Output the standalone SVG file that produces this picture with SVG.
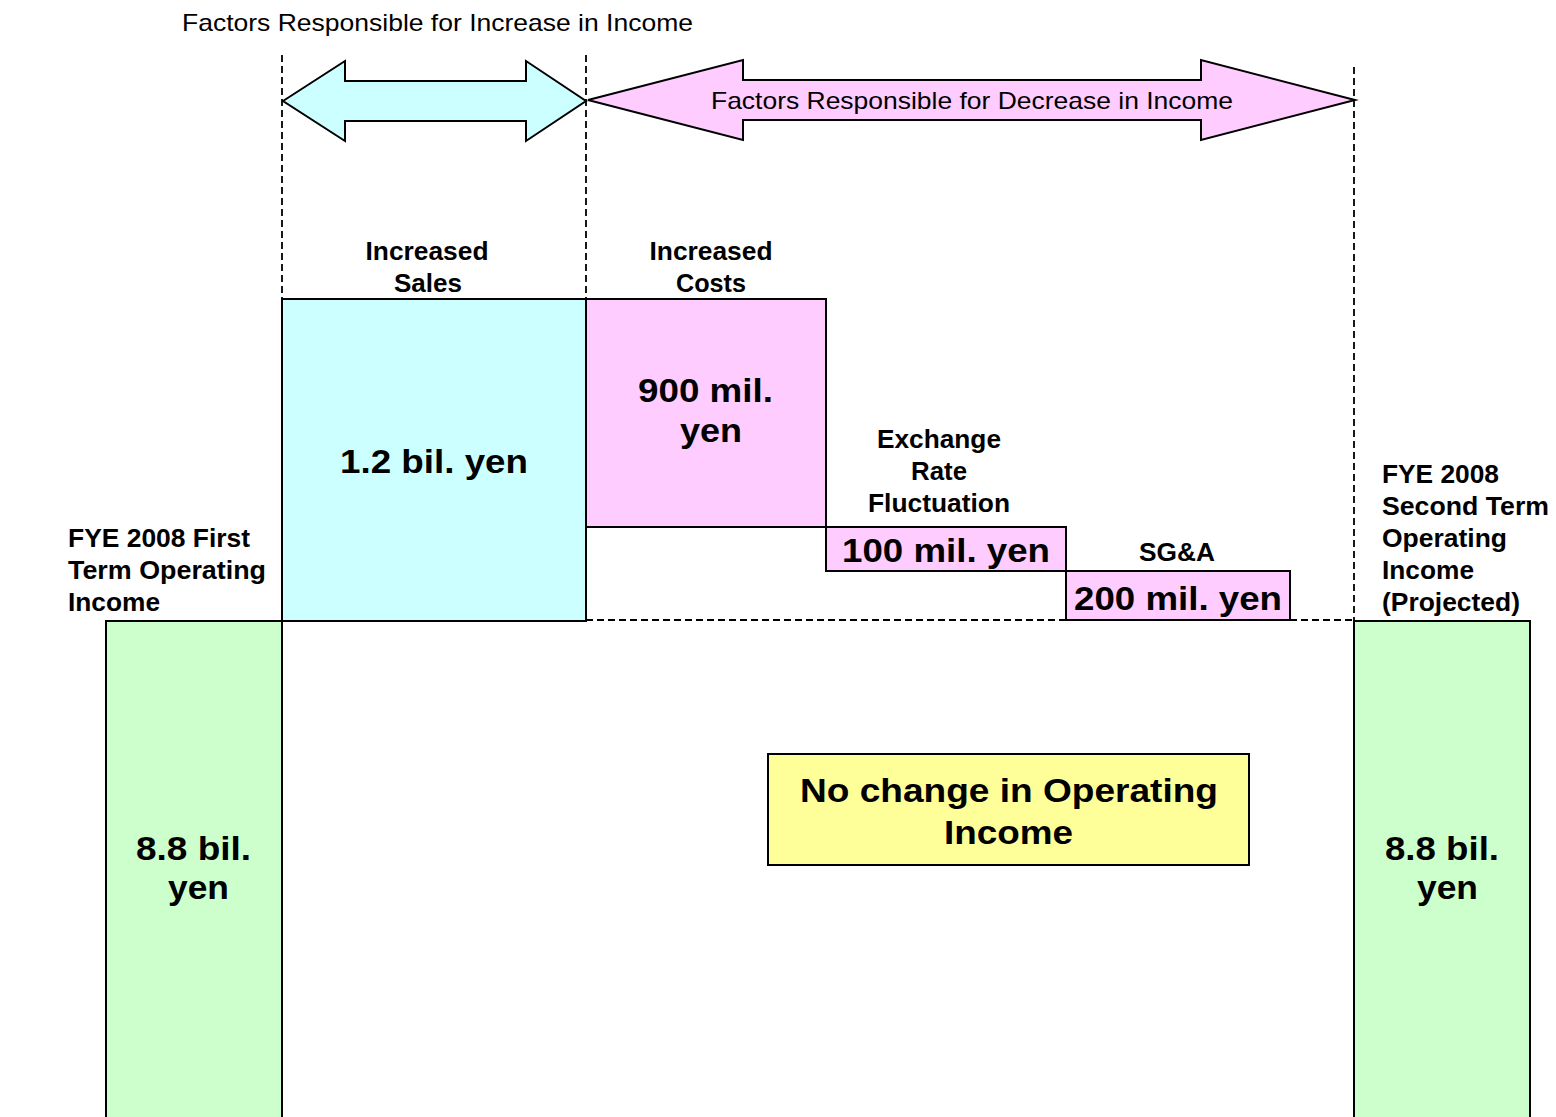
<svg xmlns="http://www.w3.org/2000/svg" width="1556" height="1117" viewBox="0 0 1556 1117">
<style>
  .box { stroke: #000; stroke-width: 2; }
  .cyan { fill: #CCFFFF; }
  .pink { fill: #FFCCFF; }
  .green { fill: #CCFFCC; }
  .yellow { fill: #FFFF99; }
  .dash { stroke: #000; stroke-width: 1.8; stroke-dasharray: 7 4; fill: none; }
  .reg { font-family: "Liberation Sans", Arial, sans-serif; font-size: 24px; fill: #000; }
  .lbl { font-family: "Liberation Sans", Arial, sans-serif; font-size: 25px; font-weight: bold; fill: #000; }
  .big { font-family: "Liberation Sans", Arial, sans-serif; font-size: 34px; font-weight: bold; fill: #000; }
  .mid { text-anchor: middle; }
</style>
<rect width="1556" height="1117" fill="#fff"/>

<g id="connectors">
  <line class="dash" x1="282" y1="55" x2="282" y2="299"/>
  <line class="dash" x1="586" y1="55" x2="586" y2="299"/>
  <line class="dash" x1="1354" y1="67" x2="1354" y2="621"/>
  <line class="dash" x1="586" y1="620" x2="1354" y2="620"/>
</g>

<g id="title-increase">
  <text class="reg" x="182" y="31" textLength="511" lengthAdjust="spacingAndGlyphs">Factors Responsible for Increase in Income</text>
</g>

<g id="arrow-increase">
  <polygon class="box cyan" points="283,101 345,61 345,81 526,81 526,61 586,101 526,141 526,121 345,121 345,141"/>
</g>

<g id="arrow-decrease">
  <polygon class="box pink" points="588,100 743,60 743,80 1201,80 1201,60 1355,100 1201,140 1201,120 743,120 743,140"/>
  <text class="reg mid" x="972" y="109" textLength="522" lengthAdjust="spacingAndGlyphs">Factors Responsible for Decrease in Income</text>
</g>

<g id="first-term">
  <rect class="box green" x="106" y="621" width="176" height="520"/>
  <text class="lbl" x="68" y="547" textLength="182" lengthAdjust="spacingAndGlyphs">FYE 2008 First</text>
  <text class="lbl" x="68" y="579" textLength="198" lengthAdjust="spacingAndGlyphs">Term Operating</text>
  <text class="lbl" x="68" y="611" textLength="92" lengthAdjust="spacingAndGlyphs">Income</text>
  <text class="big mid" x="193.5" y="860" textLength="115" lengthAdjust="spacingAndGlyphs">8.8 bil.</text>
  <text class="big mid" x="198.5" y="899" textLength="61" lengthAdjust="spacingAndGlyphs">yen</text>
</g>

<g id="increased-sales">
  <rect class="box cyan" x="282" y="299" width="304" height="322"/>
  <text class="lbl mid" x="427" y="260" textLength="123" lengthAdjust="spacingAndGlyphs">Increased</text>
  <text class="lbl mid" x="428" y="292" textLength="68" lengthAdjust="spacingAndGlyphs">Sales</text>
  <text class="big mid" x="434" y="473" font-size="35" textLength="188" lengthAdjust="spacingAndGlyphs">1.2 bil. yen</text>
</g>

<g id="increased-costs">
  <rect class="box pink" x="586" y="299" width="240" height="228"/>
  <text class="lbl mid" x="711" y="260" textLength="123" lengthAdjust="spacingAndGlyphs">Increased</text>
  <text class="lbl mid" x="711" y="292" textLength="70" lengthAdjust="spacingAndGlyphs">Costs</text>
  <text class="big mid" x="705.5" y="402" textLength="135" lengthAdjust="spacingAndGlyphs">900 mil.</text>
  <text class="big mid" x="711" y="442" textLength="62" lengthAdjust="spacingAndGlyphs">yen</text>
</g>

<g id="exchange-rate">
  <rect class="box pink" x="826" y="527" width="240" height="44"/>
  <text class="lbl mid" x="939" y="448" textLength="124" lengthAdjust="spacingAndGlyphs">Exchange</text>
  <text class="lbl mid" x="939" y="480" textLength="56" lengthAdjust="spacingAndGlyphs">Rate</text>
  <text class="lbl mid" x="939" y="512" textLength="142" lengthAdjust="spacingAndGlyphs">Fluctuation</text>
  <text class="big mid" x="946" y="562" font-size="35" textLength="208" lengthAdjust="spacingAndGlyphs">100 mil. yen</text>
</g>

<g id="sga">
  <rect class="box pink" x="1066" y="571" width="224" height="49"/>
  <text class="lbl mid" x="1177" y="561" textLength="76" lengthAdjust="spacingAndGlyphs">SG&amp;A</text>
  <text class="big mid" x="1178" y="610" font-size="35" textLength="208" lengthAdjust="spacingAndGlyphs">200 mil. yen</text>
</g>

<g id="no-change">
  <rect class="box yellow" x="768" y="754" width="481" height="111"/>
  <text class="big mid" x="1009" y="802" font-size="35" textLength="418" lengthAdjust="spacingAndGlyphs">No change in Operating</text>
  <text class="big mid" x="1008.5" y="844" font-size="35" textLength="129" lengthAdjust="spacingAndGlyphs">Income</text>
</g>

<g id="second-term">
  <rect class="box green" x="1354" y="621" width="176" height="520"/>
  <text class="lbl" x="1382" y="483" textLength="117" lengthAdjust="spacingAndGlyphs">FYE 2008</text>
  <text class="lbl" x="1382" y="515" textLength="167" lengthAdjust="spacingAndGlyphs">Second Term</text>
  <text class="lbl" x="1382" y="547" textLength="125" lengthAdjust="spacingAndGlyphs">Operating</text>
  <text class="lbl" x="1382" y="579" textLength="92" lengthAdjust="spacingAndGlyphs">Income</text>
  <text class="lbl" x="1382" y="611" textLength="138" lengthAdjust="spacingAndGlyphs">(Projected)</text>
  <text class="big mid" x="1442" y="860" textLength="114" lengthAdjust="spacingAndGlyphs">8.8 bil.</text>
  <text class="big mid" x="1447.5" y="899" textLength="61" lengthAdjust="spacingAndGlyphs">yen</text>
</g>
</svg>
